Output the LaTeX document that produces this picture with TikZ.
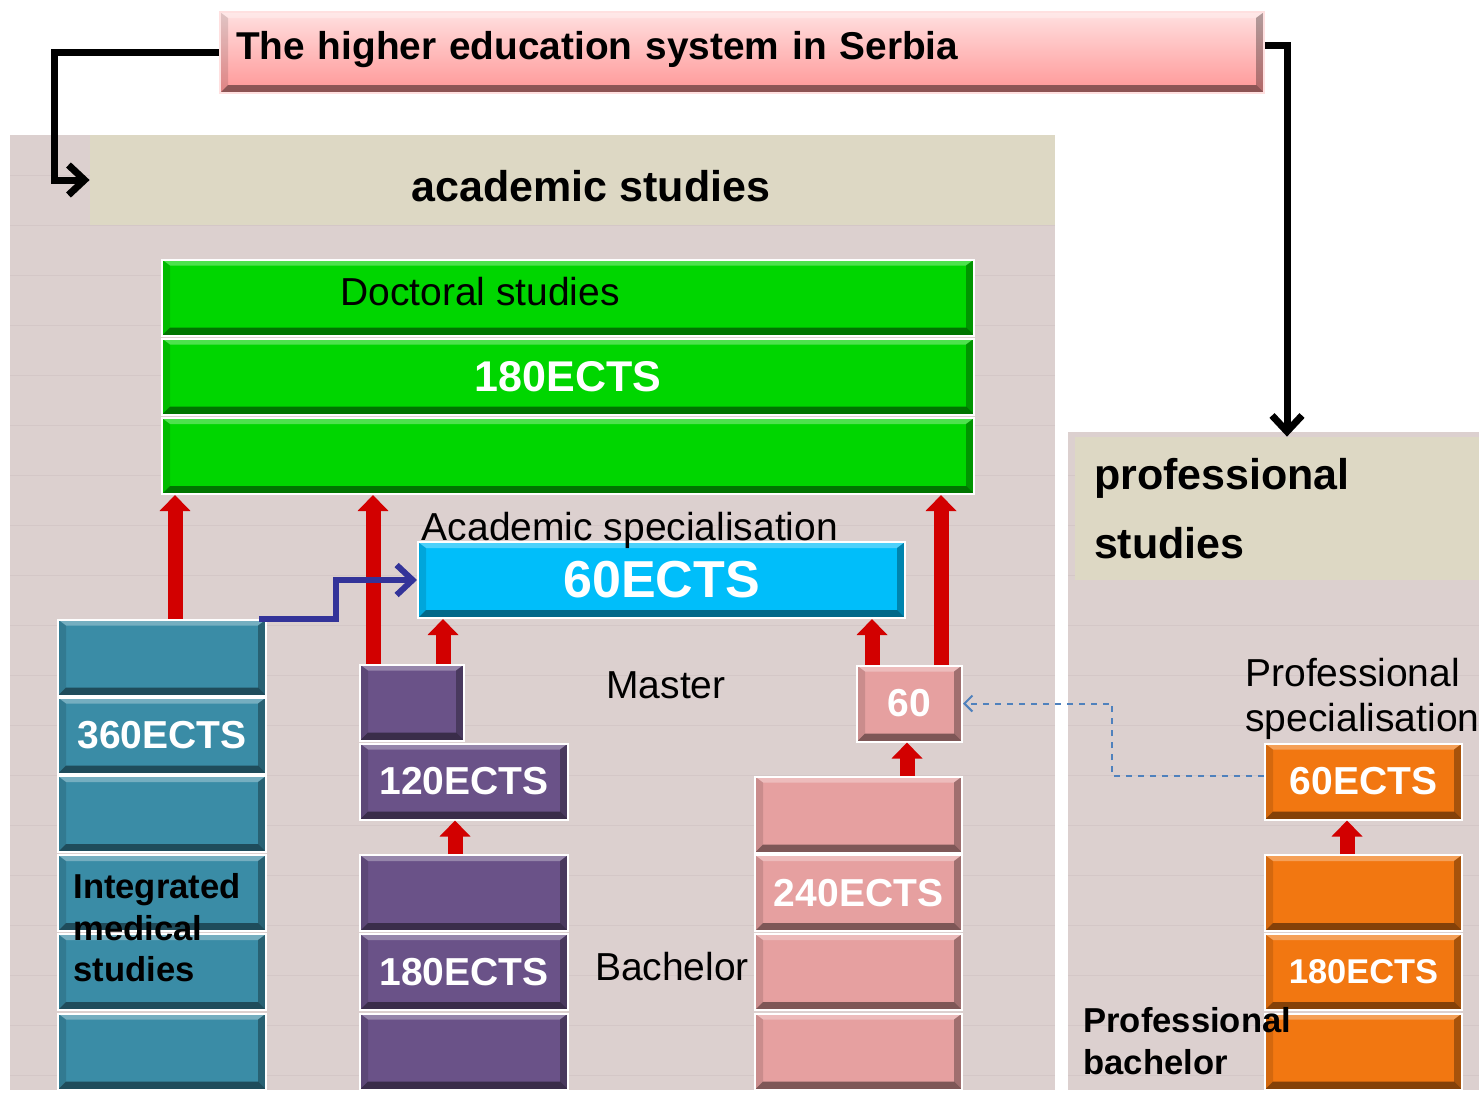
\documentclass[tikz,border=0pt]{standalone}
\usepackage{fontspec}
\setmainfont{Liberation Sans}
\usetikzlibrary{arrows.meta}
\usepackage{color}

\definecolor{panelbg}{RGB}{220,208,207}
\definecolor{stripe}{RGB}{212,199,199}
\definecolor{headbg}{RGB}{221,216,196}
\definecolor{docgreen}{RGB}{0,214,0}
\definecolor{medteal}{RGB}{58,140,166}
\definecolor{mastpurple}{RGB}{106,82,136}
\definecolor{bachpink}{RGB}{230,160,160}
\definecolor{proforange}{RGB}{242,119,17}
\definecolor{speccyan}{RGB}{0,190,250}
\definecolor{risered}{RGB}{210,0,0}
\definecolor{stepblue}{RGB}{51,51,153}
\definecolor{dashblue}{RGB}{79,129,189}
\definecolor{titletop}{RGB}{255,224,224}
\definecolor{titlebot}{RGB}{255,150,150}

\tikzset{
  bevel/.style={path picture={
    \coordinate (bl) at (path picture bounding box.south west);
    \coordinate (tr) at (path picture bounding box.north east);
    \coordinate (tl) at (bl |- tr);
    \coordinate (br) at (tr |- bl);
    \fill[white,opacity=.3] (tl) -- (tr) -- ([shift={(-4pt,-3pt)}]tr) -- ([shift={(4pt,-3pt)}]tl) -- cycle;
    \fill[black,opacity=.12] (tl) -- ([shift={(4pt,-3pt)}]tl) -- ([shift={(4pt,4pt)}]bl) -- (bl) -- cycle;
    \fill[black,opacity=.3] (tr) -- (br) -- ([shift={(-4pt,4pt)}]br) -- ([shift={(-4pt,-3pt)}]tr) -- cycle;
    \fill[black,opacity=.45] (bl) -- (br) -- ([shift={(-4pt,4pt)}]br) -- ([shift={(4pt,4pt)}]bl) -- cycle;
  }},
  brick/.style={rectangle, draw=white, line width=1pt, inner sep=0pt, text=white,
    font=\bfseries\fontsize{19.5}{22}\selectfont, minimum height=38pt, bevel},
  header/.style={rectangle, fill=headbg, inner sep=0pt, font=\bfseries\fontsize{21.5}{34.5}\selectfont},
  plain/.style={inner sep=0pt, font=\fontsize{19.5}{22.5}\selectfont},
  side/.style={inner sep=0pt, align=left, font=\bfseries\fontsize{17.3}{20.75}\selectfont},
  rise/.style={draw=risered, line width=7.5pt, -{Triangle[width=15pt,length=8pt]}},
  bigline/.style={draw=black, line width=3.5pt, -{Straight Barb[length=8pt,width=15pt]}},
  stepline/.style={draw=stepblue, line width=3pt, -{Straight Barb[length=8pt,width=15pt]}},
  dashlink/.style={draw=dashblue, line width=1pt, dashed, -{Straight Barb[length=4pt,width=8pt]}}
}

\begin{document}
\begin{tikzpicture}[x=0.5pt,y=-0.5pt]
\useasboundingbox (0,0) rectangle (1479,1093);
\fill[white] (0,0) rectangle (1479,1093);

% panels
\fill[panelbg] (10,135) rectangle (1055,1090);
\fill[panelbg] (1068,432) rectangle (1479,1090);
\foreach \y in {175,225,...,1075} \draw[stripe,line width=.5pt] (10,\y) -- (1055,\y);
\foreach \y in {475,525,...,1075} \draw[stripe,line width=.5pt] (1068,\y) -- (1479,\y);

% title and headers
\node[brick, top color=titletop, bottom color=titlebot, draw=titletop, text=black,
      minimum width=522pt, minimum height=40.5pt, text width=506pt, inner xsep=8pt,
      align=left, text height=15pt, text depth=8.2pt,
      font=\bfseries\fontsize{19.4}{23}\selectfont] (title) at (742,52.5)
      {The higher education system in Serbia};
\node[header, minimum width=482.5pt, minimum height=45pt, text height=22pt, text depth=1pt]
      (acad) at (572.5,180) {\hspace*{18.5pt}academic studies};
\node[header, minimum width=202pt, minimum height=71.5pt, text width=183pt,
      inner xsep=9.5pt, align=left] (prof) at (1277,508.5) {professional\\studies};

% doctoral studies
\foreach \n/\y/\t in {1/297.5/{},2/376.5/180ECTS,3/456/{}}
  \node[brick, fill=docgreen, minimum width=406pt, font=\bfseries\fontsize{21.5}{24}\selectfont] (g\n) at (568,\y) {\t};
\node[plain] (doctxt) at (480,292) {Doctoral studies};

% academic specialisation
\node[brick, fill=speccyan, minimum width=243.5pt, font=\bfseries\fontsize{26}{30}\selectfont] (cyan) at (661.5,580) {60ECTS};
\node[plain] (spectxt) at (630,530) {Academic specialisation};

% integrated medical studies
\foreach \n/\y/\t in {1/657.5/{},2/735.5/360ECTS,3/814/{},4/893/{},5/972/{},6/1051.5/{}}
  \node[brick, fill=medteal, minimum width=104pt] (t\n) at (162,\y) {\t};
\node[side, anchor=west] (medtxt) at (73,928) {Integrated\\medical\\studies};

% master / bachelor (purple)
\node[brick, fill=mastpurple, minimum width=52pt] (pm) at (412,702.5) {};
\foreach \n/\y/\t in {1/781.5/120ECTS,2/893/{},3/972/180ECTS,4/1051.5/{}}
  \node[brick, fill=mastpurple, minimum width=104pt] (pu\n) at (464,\y) {\t};
\node[plain] (masttxt) at (666,685) {Master};
\node[plain] (bachtxt) at (672,967) {Bachelor};

% bachelor 240 (pink)
\node[brick, fill=bachpink, minimum width=52.5pt] (p60) at (909.5,703.5) {60};
\foreach \n/\y/\t in {1/814.5/{},2/893/240ECTS,3/972/{},4/1051.5/{}}
  \node[brick, fill=bachpink, minimum width=103.5pt] (pk\n) at (858.5,\y) {\t};

% professional studies (orange)
\node[brick, fill=proforange, minimum width=98.5pt] (o60) at (1363.5,781.5) {60ECTS};
\foreach \n/\y/\t in {1/893/{},2/972/180ECTS,3/1051.5/{}}
  \node[brick, fill=proforange, minimum width=98.5pt, font=\bfseries\fontsize{17.2}{20}\selectfont] (or\n) at (1363.5,\y) {\t};
\node[plain, anchor=west, align=left] (pspectxt) at (1245,699) {Professional\\specialisation};
\node[side, anchor=west] (pbachtxt) at (1083,1041) {Professional\\bachelor};

% red arrows
\draw[rise] ([xshift=6.5pt]t1.north) -- ([xshift=6.5pt]t1.north |- g3.south);
\draw[rise] ([xshift=-19.5pt]pm.north) -- ([xshift=-19.5pt]pm.north |- g3.south);
\draw[rise] ([xshift=15.5pt]pm.north) -- ([xshift=15.5pt]pm.north |- cyan.south);
\draw[rise] ([xshift=-18.75pt]p60.north) -- ([xshift=-18.75pt]p60.north |- cyan.south);
\draw[rise] ([xshift=15.75pt]p60.north) -- ([xshift=15.75pt]p60.north |- g3.south);
\draw[rise] ([xshift=-1.25pt]p60.south |- pk1.north) -- ([xshift=-1.25pt]p60.south);
\draw[rise] ([xshift=-4.5pt]pu2.north) -- ([xshift=-4.5pt]pu2.north |- pu1.south);
\draw[rise] ([xshift=-8.25pt]or1.north) -- ([xshift=-8.25pt]or1.north |- o60.south);

% connectors
\draw[bigline] (title.west) -| ([xshift=-17.5pt]acad.west) -- (acad.west);
\draw[bigline] ([yshift=3.75pt]title.east) -| ([xshift=5pt]prof.north);
\draw[stepline] ([xshift=-4pt]t1.north east) -- ++(38.5pt,0) |- (cyan.west);
\draw[dashlink] ([yshift=2.75pt]o60.west) -- ++(-76pt,0) |- (p60.east);

\end{tikzpicture}
\end{document}
